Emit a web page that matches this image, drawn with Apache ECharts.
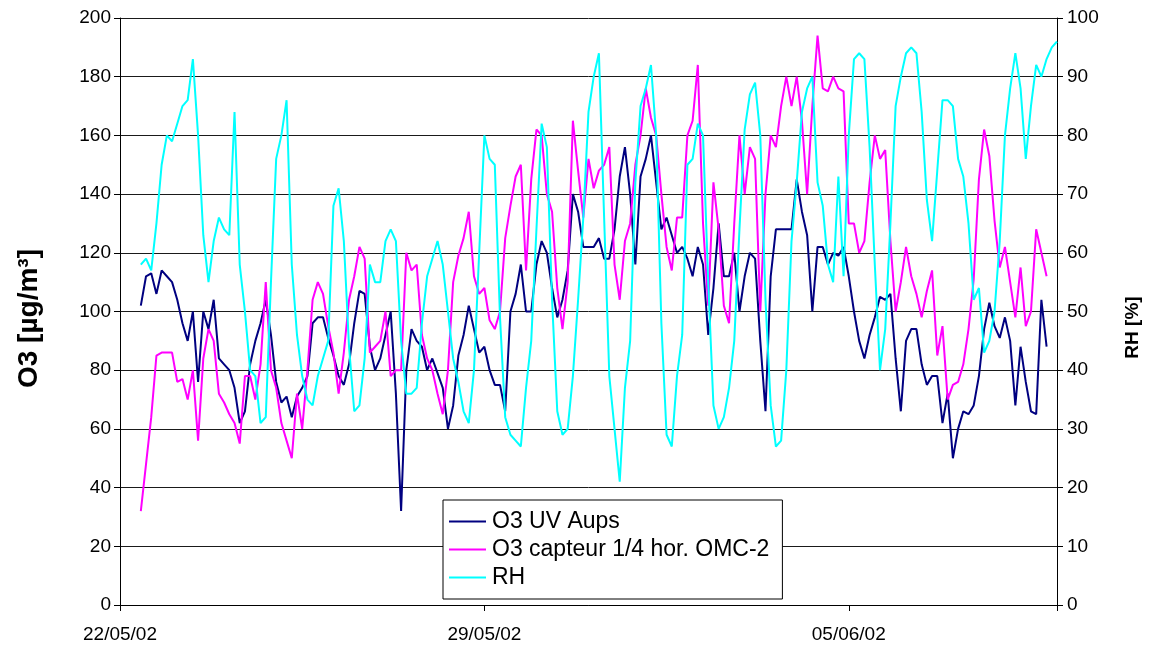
<!DOCTYPE html>
<html>
<head>
<meta charset="utf-8">
<script src="https://cdn.jsdelivr.net/npm/echarts@6/dist/echarts.min.js"></script>
<style>
html,body{margin:0;padding:0;background:#fff;}
#chart{width:1153px;height:653px;}
</style>
</head>
<body>
<div id="chart"></div>
<script>
// x positions: days since 22/05/02 00:00, sampled every 0.1 day starting at 0.4
const T0 = 0.4;
const STEP = 0.1;
const tickDays = [0, 7, 14];
const tickLabels = ['22/05/02', '29/05/02', '05/06/02'];
const seriesNames = ['O3 UV Aups', 'O3 capteur 1/4 hor. OMC-2', 'RH'];

const o3UV = [
  102,112,113,106,114,112,110,104,96,90,
  100,76,100,94,104,84,82,80,74,62,
  66,82,90,96,104,92,76,69,71,64,
  71,74,78,96,98,98,91,85,78,75,
  82,96,107,106,88,80,84,92,100,72,
  32,80,94,90,88,80,84,79,74,60,
  68,85,92,102,94,86,88,80,75,75,
  66,100,106,116,100,100,116,124,120,108,
  98,104,114,140,134,122,122,122,125,118,
  118,128,146,156,140,116,146,152,160,144,
  128,132,126,120,122,118,112,122,116,92,
  108,130,112,112,120,100,112,120,118,90,
  66,112,128,128,128,128,145,134,126,100,
  122,122,116,120,119,122,112,100,90,84,
  92,98,105,104,106,84,66,90,94,94,
  82,75,78,78,62,72,50,60,66,65,
  68,78,94,103,95,91,98,90,68,88,
  76,66,65,104,88
];

const o3Capteur = [
  32,48,64,85,86,86,86,76,77,70,
  80,56,84,94,90,72,69,65,62,55,
  78,78,70,82,110,80,74,62,56,50,
  72,60,80,104,110,106,95,86,72,86,
  104,112,122,118,86,88,90,100,78,80,
  80,120,114,116,92,84,80,72,65,80,
  110,119,125,134,112,106,108,97,94,100,
  125,136,146,150,114,145,162,160,140,134,
  108,94,110,165,148,132,152,142,148,150,
  156,116,104,124,130,150,160,176,166,160,
  140,122,114,132,132,160,165,184,130,102,
  144,128,102,96,130,160,140,156,152,100,
  140,160,156,170,180,170,180,165,140,170,
  194,176,175,180,176,175,130,130,120,124,
  144,160,152,155,124,100,110,122,112,106,
  98,107,114,85,95,70,75,76,82,94,
  111,145,162,153,131,115,122,110,98,115,
  95,100,128,120,112
];

const rh = [
  58,59,57,65,75,80,79,82,85,86,
  93,80,63,55,62,66,64,63,84,58,
  50,40,39,31,32,55,76,80,86,58,
  46,39,35,34,39,42,45,68,71,62,
  44,33,34,42,58,55,55,62,64,62,
  45,36,36,37,48,56,59,62,58,50,
  42,38,33,31,40,60,80,76,75,49,
  32,29,28,27,37,45,64,82,78,52,
  33,29,30,39,52,66,84,90,94,66,
  39,30,21,37,45,72,85,88,92,80,
  48,29,27,39,46,75,76,82,80,55,
  34,30,32,37,45,64,81,87,89,80,
  52,34,27,28,40,62,72,84,88,90,
  72,68,58,55,73,56,80,93,94,93,
  78,58,40,47,65,85,90,94,95,94,
  84,69,62,74,86,86,85,76,73,65,
  52,54,43,45,50,62,80,88,94,88,
  76,85,92,90,93,95,96
];

function toPairs(arr) {
  return arr.map((v, i) => [Math.round((T0 + i * STEP) * 10) / 10, v]);
}

const FONT = '"Liberation Sans", Arial, sans-serif';
const chart = echarts.init(document.getElementById('chart'), null, {renderer: 'canvas'});

chart.setOption({
  animation: false,
  backgroundColor: '#ffffff',
  grid: {left: 120, right: 96, top: 18, bottom: 48, containLabel: false},
  legend: {
    orient: 'vertical',
    left: 443,
    top: 500,
    data: seriesNames,
    icon: 'rect',
    itemWidth: 37,
    itemHeight: 2,
    itemGap: 5,
    padding: [10, 13, 10, 6],
    backgroundColor: '#ffffff',
    borderColor: '#000000',
    borderWidth: 1,
    borderRadius: 0,
    selectedMode: false,
    textStyle: {fontFamily: FONT, fontSize: 23, color: '#000', padding: [0, 0, 0, 1]}
  },
  xAxis: {
    type: 'value',
    min: 0,
    max: 18,
    interval: 7,
    axisLine: {show: true, onZero: false, lineStyle: {color: '#000', width: 1}},
    axisTick: {show: true, inside: false, length: 6, lineStyle: {color: '#000'}},
    axisLabel: {
      fontFamily: FONT, fontSize: 19, color: '#000', margin: 20,
      formatter: function (v) {
        const k = tickDays.indexOf(Math.round(v));
        return k >= 0 ? tickLabels[k] : '';
      }
    },
    splitLine: {show: false}
  },
  yAxis: [
    {
      type: 'value',
      min: 0, max: 200, interval: 20,
      position: 'left',
      name: 'O3 [µg/m³]',
      nameLocation: 'middle',
      nameRotate: 90,
      nameGap: 77,
      nameTextStyle: {fontFamily: FONT, fontSize: 28, fontWeight: 'bold', color: '#000', padding: [0, 14, 0, 0]},
      axisLine: {show: true, lineStyle: {color: '#000', width: 1}},
      axisTick: {show: true, length: 6, lineStyle: {color: '#000'}},
      axisLabel: {fontFamily: FONT, fontSize: 19, color: '#000', margin: 9},
      splitLine: {show: true, lineStyle: {color: '#1a1a1a', width: 1}}
    },
    {
      type: 'value',
      min: 0, max: 100, interval: 10,
      position: 'right',
      name: 'RH [%]',
      nameLocation: 'middle',
      nameRotate: 90,
      nameGap: 66,
      nameTextStyle: {fontFamily: FONT, fontSize: 19, fontWeight: 'bold', color: '#000', padding: [0, 32, 0, 0]},
      axisLine: {show: true, lineStyle: {color: '#000', width: 1}},
      axisTick: {show: true, length: 6, lineStyle: {color: '#000'}},
      axisLabel: {fontFamily: FONT, fontSize: 19, color: '#000', margin: 10},
      splitLine: {show: false}
    }
  ],
  series: [
    {
      name: seriesNames[0], type: 'line', yAxisIndex: 0, data: toPairs(o3UV),
      showSymbol: false, symbol: 'none', color: '#000080',
      lineStyle: {color: '#000080', width: 2}
    },
    {
      name: seriesNames[1], type: 'line', yAxisIndex: 0, data: toPairs(o3Capteur),
      showSymbol: false, symbol: 'none', color: '#ff00ff',
      lineStyle: {color: '#ff00ff', width: 2}
    },
    {
      name: seriesNames[2], type: 'line', yAxisIndex: 1, data: toPairs(rh),
      showSymbol: false, symbol: 'none', color: '#00ffff',
      lineStyle: {color: '#00ffff', width: 2}
    }
  ]
});
</script>
</body>
</html>
